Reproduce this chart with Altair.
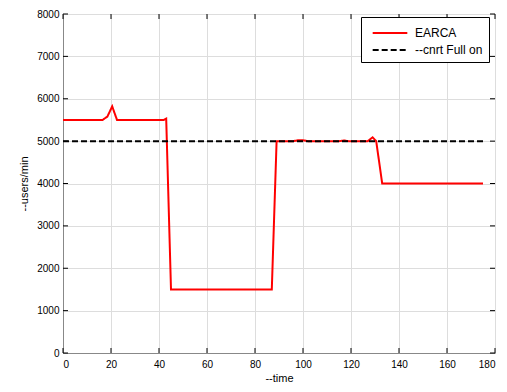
import altair as alt
import pandas as pd

# EARCA series
earca_t = [0, 16.5, 18.5, 20.5, 22.5, 42, 43, 45, 87, 89, 96, 98, 100, 102,
           115, 117, 119, 127, 129, 130.5, 133, 175]
earca_v = [5500, 5500, 5580, 5820, 5500, 5500, 5530, 1500, 1500, 5000, 5000,
           5020, 5020, 5000, 5000, 5015, 5000, 5000, 5090, 5000, 4000, 4000]
# reference "--cnrt Full on"
cnrt_t = [0, 175]
cnrt_v = [5000, 5000]

series_names = ["EARCA", "--cnrt Full on"]
x_ticks = [0, 20, 40, 60, 80, 100, 120, 140, 160, 180]
y_ticks = [0, 1000, 2000, 3000, 4000, 5000, 6000, 7000, 8000]

rows = []
for t, v in zip(earca_t, earca_v):
    rows.append({"time": t, "users": v, "series": series_names[0], "ord": len(rows)})
for t, v in zip(cnrt_t, cnrt_v):
    rows.append({"time": t, "users": v, "series": series_names[1], "ord": len(rows)})
df = pd.DataFrame(rows)

W, H = 432, 339
FONT = "Liberation Sans"

xs = alt.Scale(domain=[0, 180], nice=False, zero=False)
ys = alt.Scale(domain=[0, 8000], nice=False)

lines = alt.Chart(df).mark_line(strokeWidth=2, clip=True).encode(
    x=alt.X("time:Q", scale=xs,
            axis=alt.Axis(values=x_ticks, title="--time", tickSize=0, labelPadding=6,
                          titlePadding=3, grid=True, format="d",
                          titleFontWeight="normal")),
    y=alt.Y("users:Q", scale=ys,
            axis=alt.Axis(values=y_ticks, title="--users/min", tickSize=0, labelPadding=4,
                          titlePadding=7, grid=True, format="d",
                          titleFontWeight="normal")),
    color=alt.Color("series:N",
                    scale=alt.Scale(domain=series_names, range=["#ff0000", "#000000"]),
                    legend=alt.Legend(title=None, orient="none", legendX=298, legendY=3,
                                      symbolType="M-2,0H2", symbolSize=300,
                                      symbolStrokeWidth=2, labelFontSize=12,
                                      labelFont=FONT, padding=6, rowPadding=1,
                                      labelOffset=15, symbolOffset=13,
                                      strokeColor="black", fillColor="white",
                                      labelLimit=200)),
    strokeDash=alt.StrokeDash("series:N",
                              scale=alt.Scale(domain=series_names, range=[[1, 0], [6, 3]]),
                              legend=alt.Legend(title=None)),
    order="ord:Q",
)

xt = pd.DataFrame({"v": x_ticks})
yt = pd.DataFrame({"v": y_ticks})
tick_color = "black"
bottom_ticks = alt.Chart(xt).mark_rule(color=tick_color).encode(
    x=alt.X("v:Q", scale=xs), y=alt.value(H), y2=alt.value(H - 5))
top_ticks = alt.Chart(xt).mark_rule(color=tick_color).encode(
    x=alt.X("v:Q", scale=xs), y=alt.value(0), y2=alt.value(5))
left_ticks = alt.Chart(yt).mark_rule(color=tick_color).encode(
    y=alt.Y("v:Q", scale=ys), x=alt.value(0), x2=alt.value(5))
right_ticks = alt.Chart(yt).mark_rule(color=tick_color).encode(
    y=alt.Y("v:Q", scale=ys), x=alt.value(W), x2=alt.value(W - 5))

chart = alt.layer(bottom_ticks, top_ticks, left_ticks, right_ticks, lines).properties(
    width=W, height=H,
    autosize=alt.AutoSizeParams(type="none"),
    padding={"left": 63, "top": 14, "right": 12, "bottom": 39},
).configure_view(
    stroke="black", strokeWidth=1.2
).configure_axis(
    labelFont=FONT, titleFont=FONT, labelFontSize=12.5, titleFontSize=13.5,
    labelColor="black", titleColor="black", titleFontWeight="normal",
    gridColor="#a8a8a8", gridWidth=1, domain=False,
).configure(background="white")

chart.save("out.html", embed_options={"renderer": "svg", "actions": False})
